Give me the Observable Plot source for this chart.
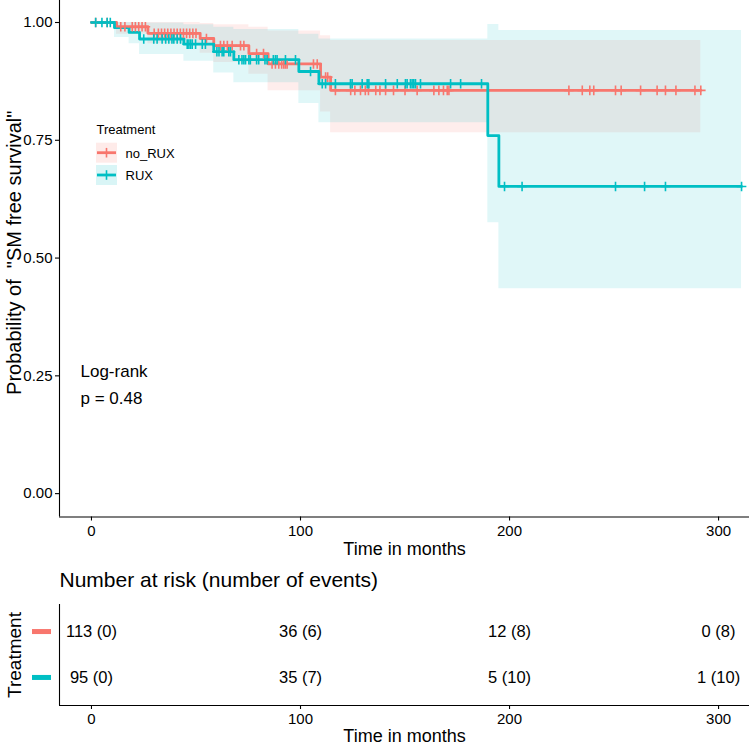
<!DOCTYPE html>
<html><head><meta charset="utf-8">
<script src="https://cdn.jsdelivr.net/npm/d3@7"></script>
<script src="https://cdn.jsdelivr.net/npm/@observablehq/plot@0.6"></script>
<style>
body{margin:0;background:#fff;}
#c{position:relative;width:749px;height:746px;overflow:hidden;}
#c svg{position:absolute;left:0;overflow:visible;font-family:"Liberation Sans",Arial,sans-serif;}
</style></head><body><div id="c"></div>
<script>
// ---- data ----
const groups = ["no_RUX", "RUX"];
const groupColors = ["#F8766D", "#00BFC4"];

// Kaplan-Meier steps (months, survival)
const noRuxTime = [0, 12, 27, 52, 58.5, 75.3, 84.5, 109.6, 114.4, 291.5];
const noRuxSurv = [1, 0.991, 0.977, 0.966, 0.951, 0.934, 0.912, 0.884, 0.856, 0.856];
const ruxTime = [0, 11, 18, 23, 44.2, 58.5, 68.1, 99.2, 108.8, 189.6, 194.9, 311];
const ruxSurv = [1, 0.989, 0.979, 0.965, 0.954, 0.938, 0.921, 0.896, 0.870, 0.760, 0.652, 0.652];

// confidence bands
const noRuxLower = [1, 0.975, 0.955, 0.935, 0.915, 0.89, 0.855, 0.81, 0.766, 0.766];
const noRuxUpper = [1, 1, 1, 0.998, 0.995, 0.99, 0.982, 0.972, 0.962, 0.962];
const ruxLower = [1, 0.968, 0.955, 0.932, 0.918, 0.893, 0.872, 0.828, 0.787, 0.575, 0.435, 0.435];
const ruxUpper = [1, 1, 1, 0.999, 0.995, 0.99, 0.985, 0.975, 0.965, 0.996, 0.983, 0.983];

// censoring times (months)
const noRuxCensor = [2, 7.5, 14, 16, 19.5, 21, 22.6, 24.2, 25.8, 30, 32, 33.5, 35, 36.5, 38, 39.5, 41, 42.5, 44, 45.5, 47, 48.5, 50, 55, 61.7, 63.3, 65, 67.3, 71.3, 72.9, 79, 82.3, 86.4, 88, 89.6, 91, 92, 92.8, 93.6, 106.2, 108, 112, 113, 116.7, 124, 126, 128.7, 131, 132.5, 136, 138, 140.7, 144.5, 150, 155.8, 163.8, 166.2, 168.4, 170.2, 171, 228.4, 234.8, 238.4, 240.3, 250.7, 253.4, 262.7, 270.6, 274.6, 279.6, 288.7, 291.5];
const ruxCensor = [2, 5, 7.5, 9, 25, 29.8, 31.4, 33.8, 35.5, 37, 38.5, 39.4, 41, 42.6, 45.8, 46.6, 47.4, 48.2, 49.8, 53, 54.5, 60, 61, 62.5, 63.3, 65.7, 66.5, 70.5, 72, 72.9, 73.7, 75.3, 76, 79, 80, 83, 84, 87, 88, 88.8, 92.8, 97.6, 104.8, 110.4, 112, 116.7, 123.9, 124.7, 129.5, 131.9, 132.7, 140.7, 146.3, 150.2, 151, 152.6, 153.4, 154.2, 155, 157.4, 171.8, 176.6, 186.6, 197.6, 206, 250.7, 264.6, 274.6, 311];

// risk table
const riskTimes = [0, 100, 200, 300];
const riskNoRux = ["113 (0)", "36 (6)", "12 (8)", "0 (8)"];
const riskRux = ["95 (0)", "35 (7)", "5 (10)", "1 (10)"];

const xTicks = [0, 100, 200, 300];
const yTicks = [0, 0.25, 0.5, 0.75, 1];
const pvalText = ["Log-rank", "p = 0.48"];

// ---- build tables ----
const stepAt = (times, surv, t) => { let s = surv[0]; for (let i = 0; i < times.length; i++) if (times[i] <= t) s = surv[i]; return s; };
const km = (times, surv, g) => times.map((t, i) => ({t, s: surv[i], g}));
const band = (times, lo, hi, g) => times.map((t, i) => ({t, lo: lo[i], hi: hi[i], g}));
const cens = (ct, times, surv, g) => ct.map(t => ({t, s: stepAt(times, surv, t), g}));

const kmRed = km(noRuxTime, noRuxSurv, groups[0]);
const kmTeal = km(ruxTime, ruxSurv, groups[1]);
const bandRed = band(noRuxTime, noRuxLower, noRuxUpper, groups[0]);
const bandTeal = band(ruxTime, ruxLower, ruxUpper, groups[1]);
const censRed = cens(noRuxCensor, noRuxTime, noRuxSurv, groups[0]);
const censTeal = cens(ruxCensor, ruxTime, ruxSurv, groups[1]);

const plusSym = {draw(ctx, size) { const r = Math.sqrt(size / Math.PI); ctx.moveTo(-r, 0); ctx.lineTo(r, 0); ctx.moveTo(0, -r); ctx.lineTo(0, r); }};

const X0 = -15.3, X1 = 314.8;
const Y0 = -0.0496, Y1 = 1.0467;
const FONT = "'Liberation Sans', Arial, sans-serif";

const main = Plot.plot({
  width: 749, height: 560,
  marginLeft: 59, marginRight: 0, marginTop: 0, marginBottom: 43.5,
  style: {fontFamily: FONT, background: "transparent", overflow: "visible"},
  x: {domain: [X0, X1], range: [59, 749]},
  y: {domain: [Y0, Y1], range: [516.5, 0]},
  marks: [
    Plot.areaY(bandRed, {x: "t", y1: "lo", y2: "hi", curve: "step-after", fill: groupColors[0], fillOpacity: 0.13}),
    Plot.areaY(bandTeal, {x: "t", y1: "lo", y2: "hi", curve: "step-after", fill: groupColors[1], fillOpacity: 0.12}),
    Plot.line(kmRed, {x: "t", y: "s", curve: "step-after", stroke: groupColors[0], strokeWidth: 2.8}),
    Plot.line(kmTeal, {x: "t", y: "s", curve: "step-after", stroke: groupColors[1], strokeWidth: 2.8}),
    Plot.dot(censRed, {x: "t", y: "s", symbol: plusSym, r: 4.8, stroke: groupColors[0], strokeWidth: 1.6, fill: "none"}),
    Plot.dot(censTeal, {x: "t", y: "s", symbol: plusSym, r: 4.8, stroke: groupColors[1], strokeWidth: 1.6, fill: "none"}),
    Plot.ruleX([X0], {stroke: "black", strokeWidth: 1.1}),
    Plot.ruleY([Y0], {stroke: "black", strokeWidth: 1.1}),
    Plot.axisX({ticks: xTicks, tickSize: 4, tickPadding: 4, fontSize: 15, label: null, strokeWidth: 1.1}),
    Plot.axisY({ticks: yTicks, tickFormat: d3.format(".2f"), tickSize: 4, tickPadding: 3, fontSize: 15, label: null, strokeWidth: 1.1}),
    Plot.text(["Time in months"], {frameAnchor: "bottom", dy: 32, lineAnchor: "middle", fontSize: 18}),
    Plot.text(['Probability of  "SM free survival"'], {frameAnchor: "left", dx: -45, dy: -6, rotate: -90, textAnchor: "middle", lineAnchor: "middle", fontSize: 20}),
    Plot.text([pvalText[0]], {frameAnchor: "top-left", dx: 21, dy: 371, textAnchor: "start", lineAnchor: "middle", fontSize: 17}),
    Plot.text([pvalText[1]], {frameAnchor: "top-left", dx: 21, dy: 398, textAnchor: "start", lineAnchor: "middle", fontSize: 17}),
    Plot.text(["Treatment"], {frameAnchor: "top-left", dx: 37, dy: 129, textAnchor: "start", lineAnchor: "middle", fontSize: 13}),
    Plot.text([groups[0]], {frameAnchor: "top-left", dx: 66, dy: 153, textAnchor: "start", lineAnchor: "middle", fontSize: 13}),
    Plot.text([groups[1]], {frameAnchor: "top-left", dx: 66, dy: 175.5, textAnchor: "start", lineAnchor: "middle", fontSize: 13})
  ]
});

// legend keys
const ms = d3.select(main);
[[142.7, 0], [165, 1]].forEach(([top, i]) => {
  const g = ms.append("g");
  g.append("rect").attr("x", 96).attr("y", top).attr("width", 21).attr("height", 20).attr("fill", groupColors[i]).attr("fill-opacity", 0.15);
  const cy = top + 10;
  g.append("line").attr("x1", 97).attr("x2", 116).attr("y1", cy).attr("y2", cy).attr("stroke", groupColors[i]).attr("stroke-width", 2.8);
  g.append("line").attr("x1", 106.5).attr("x2", 106.5).attr("y1", cy - 4.8).attr("y2", cy + 4.8).attr("stroke", groupColors[i]).attr("stroke-width", 1.6);
});

// risk table
const rows = [];
riskTimes.forEach((t, i) => {
  rows.push({t, row: 2, label: riskNoRux[i]});
  rows.push({t, row: 1, label: riskRux[i]});
});
const table = Plot.plot({
  width: 749, height: 186,
  marginLeft: 59, marginRight: 0, marginTop: 44, marginBottom: 41,
  style: {fontFamily: FONT, background: "transparent", overflow: "visible"},
  x: {domain: [X0, X1], range: [59, 749]},
  y: {domain: [0.4, 2.6], range: [145, 44], axis: null},
  marks: [
    Plot.text(rows, {x: "t", y: "row", text: "label", fontSize: 16.5}),
    Plot.ruleX([X0], {stroke: "black", strokeWidth: 1.1}),
    Plot.ruleY([0.4], {stroke: "black", strokeWidth: 1.1}),
    Plot.axisX({ticks: xTicks, tickSize: 4, tickPadding: 4, fontSize: 15, label: null, strokeWidth: 1.1}),
    Plot.text(["Time in months"], {frameAnchor: "bottom", dy: 31, lineAnchor: "middle", fontSize: 18}),
    Plot.text(["Number at risk (number of events)"], {frameAnchor: "top-left", dy: -24, textAnchor: "start", lineAnchor: "middle", fontSize: 21}),
    Plot.text(["Treatment"], {frameAnchor: "left", dx: -45, rotate: -90, textAnchor: "middle", lineAnchor: "middle", fontSize: 19})
  ]
});
const ts = d3.select(table);
const ys = table.scale("y");
[[2, 0], [1, 1]].forEach(([r, i]) => {
  ts.append("rect").attr("x", 32).attr("y", ys.apply(r) - 2.5).attr("width", 19).attr("height", 5).attr("fill", groupColors[i]);
});

const c = document.getElementById("c");
main.style.top = "0px";
table.style.top = "560px";
c.appendChild(main);
c.appendChild(table);
</script></body></html>
